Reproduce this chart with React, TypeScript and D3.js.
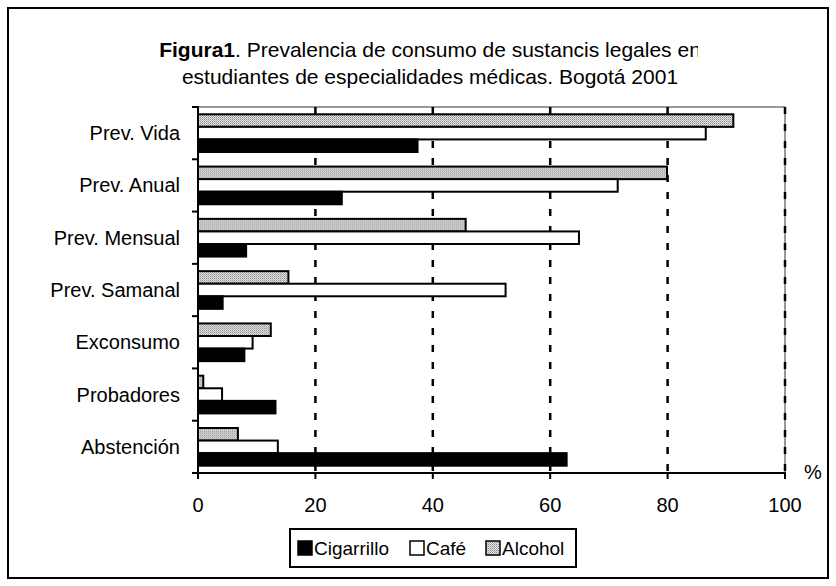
import React from 'react';
import * as d3 from 'd3';

const categories = ['Prev. Vida', 'Prev. Anual', 'Prev. Mensual', 'Prev. Samanal', 'Exconsumo', 'Probadores', 'Abstención'];
const seriesNames = ['Alcohol', 'Café', 'Cigarrillo'];
const alcohol = [91.2, 79.9, 45.6, 15.4, 12.4, 0.9, 6.8];
const cafe = [86.5, 71.5, 64.9, 52.4, 9.3, 4.1, 13.6];
const cigarrillo = [37.4, 24.5, 8.2, 4.2, 7.9, 13.2, 62.8];
const xTicks = [0, 20, 40, 60, 80, 100];
const legendItems = ['Cigarrillo', 'Café', 'Alcohol'];

const W = 836;
const H = 586;
const font = 'Arial, "Liberation Sans", sans-serif';

const fills: Record<string, string> = {
  Cigarrillo: '#000',
  'Café': '#fff',
  Alcohol: 'url(#dots)',
};

export default function App() {
  const margin = { left: 198, right: 51, top: 107, bottom: 113 };
  const x = d3.scaleLinear().domain([0, 100]).range([margin.left, W - margin.right]);
  const y = d3.scaleBand().domain(categories).range([margin.top, H - margin.bottom]);
  // excel-ish gap between the groups
  const inner = d3.scaleBand().domain(seriesNames).range([0, y.bandwidth()]).paddingOuter(0.58);
  const values: Record<string, number[]> = { Alcohol: alcohol, 'Café': cafe, Cigarrillo: cigarrillo };

  const [x0, x1] = x.range();
  const [y0, y1] = y.range();

  // legend layout
  const legendX = [298, 410, 486];
  const legendTop = 529;

  return (
    <svg width={W} height={H} style={{ display: 'block', position: 'absolute', left: 0, top: 0 }} fontFamily={font}>
      <defs>
        <pattern id="dots" width={2} height={2} patternUnits="userSpaceOnUse">
          <rect width={2} height={2} fill="#e6e6e6" />
          <rect width={1} height={1} fill="#8a8a8a" />
          <rect x={1} y={1} width={1} height={1} fill="#b0b0b0" />
        </pattern>
        {/* the title box cuts the last letter off, like in the original */}
        <clipPath id="titleClip">
          <rect x={0} y={0} width={698} height={100} />
        </clipPath>
      </defs>
      <rect x={0} y={0} width={W} height={H} fill="#fff" />
      <rect x={8} y={8} width={820} height={570} fill="none" stroke="#000" strokeWidth={2} />

      {/* title */}
      <g clipPath="url(#titleClip)" fontSize={21} textAnchor="middle">
        <text x={430} y={57}>
          <tspan fontWeight="bold">Figura1</tspan>.  Prevalencia de consumo de sustancis legales en
        </text>
        <text x={430} y={84}>estudiantes de especialidades médicas. Bogotá 2001</text>
      </g>

      {/* plot frame, gray top/right */}
      <line x1={x0} x2={x1} y1={y0} y2={y0} stroke="#999" strokeWidth={2} />
      <line x1={x1} x2={x1} y1={y0} y2={y1} stroke="#999" strokeWidth={2} />

      {/* dashed grid */}
      {xTicks.slice(1).map(t => (
        <line key={t} x1={x(t)} x2={x(t)} y1={y0} y2={y1} stroke="#000" strokeWidth={2.5} strokeDasharray="7,10" />
      ))}

      {/* bars */}
      {categories.map((c, i) => (
        <g key={c} transform={`translate(0,${y(c)})`}>
          {seriesNames.map(s => (
            <rect key={s} x={x(0)} y={inner(s)} width={x(values[s][i]) - x(0)} height={inner.bandwidth()}
              fill={fills[s]} stroke="#000" strokeWidth={2} />
          ))}
        </g>
      ))}

      {/* axes */}
      <line x1={x0} x2={x0} y1={y0 - 1} y2={y1 + 1} stroke="#000" strokeWidth={2} />
      <line x1={x0 - 6} x2={x1 + 1} y1={y1} y2={y1} stroke="#000" strokeWidth={2} />
      {categories.map(c => (
        <line key={c} x1={x0 - 6} x2={x0} y1={y(c)} y2={y(c)} stroke="#000" strokeWidth={2} />
      ))}
      {xTicks.map(t => (
        <line key={t} x1={x(t)} x2={x(t)} y1={y1} y2={y1 + 6} stroke="#000" strokeWidth={2} />
      ))}
      {categories.map(c => (
        <text key={c} x={180} y={(y(c) ?? 0) + y.bandwidth() / 2 + 7} fontSize={20} textAnchor="end">{c}</text>
      ))}
      {xTicks.map(t => (
        <text key={t} x={x(t)} y={512} fontSize={20} textAnchor="middle">{t}</text>
      ))}
      <text x={804} y={479} fontSize={20}>%</text>

      {/* legend */}
      <rect x={290} y={legendTop} width={286} height={38} fill="#fff" stroke="#000" strokeWidth={2} />
      {legendItems.map((s, i) => (
        <g key={s}>
          <rect x={legendX[i]} y={legendTop + 12} width={14} height={14} fill={fills[s]} stroke="#000" strokeWidth={1.5} />
          <text x={legendX[i] + 16} y={legendTop + 26} fontSize={19}>{s}</text>
        </g>
      ))}
    </svg>
  );
}
